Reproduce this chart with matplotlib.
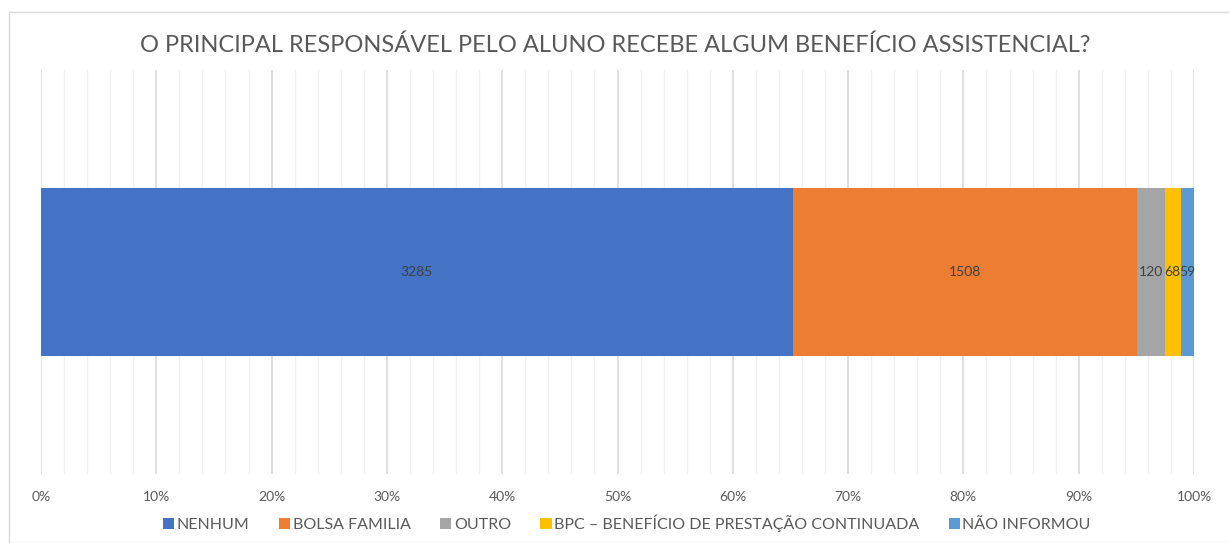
import matplotlib
matplotlib.use("Agg")
import matplotlib.pyplot as plt
from matplotlib.patches import Rectangle
from matplotlib.ticker import MultipleLocator, FuncFormatter

plt.rcParams['font.family'] = ['Lato', 'DejaVu Sans']

title = "O PRINCIPAL RESPONSÁVEL PELO ALUNO RECEBE ALGUM BENEFÍCIO ASSISTENCIAL?"
categories = ["NENHUM", "BOLSA FAMILIA", "OUTRO",
              "BPC – BENEFÍCIO DE PRESTAÇÃO CONTINUADA", "NÃO INFORMOU"]
values = [3285, 1508, 120, 68, 59]
colors = ["#4472C4", "#ED7D31", "#A5A5A5", "#FFC000", "#5B9BD5"]

total = sum(values)
pct = [v / total for v in values]

W, H = 1229, 543
fig = plt.figure(figsize=(W / 100, H / 100), dpi=100)
fig.patch.set_facecolor("white")

# outer chart frame
fig.patches.append(Rectangle((9 / W, 0), 1.2, 1 - 12 / H, transform=fig.transFigure,
                             fill=False, edgecolor="#D9D9D9", linewidth=1))

ax = fig.add_axes([41 / W, 1 - 474 / H, (1194 - 41) / W, (474 - 70) / H])
left = 0.0
for cat, p, v, c in zip(categories, pct, values, colors):
    ax.barh(0, p, left=left, height=0.415, color=c, label=cat, zorder=3)
    ax.text(left + p / 2, 0, str(v), ha="center", va="center",
            fontsize=10, color="#404040", zorder=4)
    left += p

ax.set_xlim(0, 1)
ax.set_ylim(-0.5, 0.5)
ax.xaxis.set_major_locator(MultipleLocator(0.1))
ax.xaxis.set_minor_locator(MultipleLocator(0.02))
ax.xaxis.set_major_formatter(FuncFormatter(lambda x, _: f"{x*100:.0f}%"))
ax.grid(axis="x", which="major", color="#D9D9D9", linewidth=1.2, zorder=0)
ax.grid(axis="x", which="minor", color="#F0F0F0", linewidth=1.0, zorder=0)
ax.set_yticks([])
for s in ax.spines.values():
    s.set_visible(False)
ax.tick_params(axis="x", which="both", length=0, pad=12, labelsize=10,
               labelcolor="#595959")

fig.text(615 / W, 1 - 45 / H, title, ha="center", va="center",
         fontsize=17, color="#595959")

leg = fig.legend(loc="center", bbox_to_anchor=(627 / W, 1 - 523 / H), ncol=5,
                 frameon=False, fontsize=11.5, handlelength=0.7, handleheight=0.7,
                 handletextpad=0.15, columnspacing=1.85, labelcolor="#595959")

fig.savefig("out.png", dpi=100, facecolor="white")
